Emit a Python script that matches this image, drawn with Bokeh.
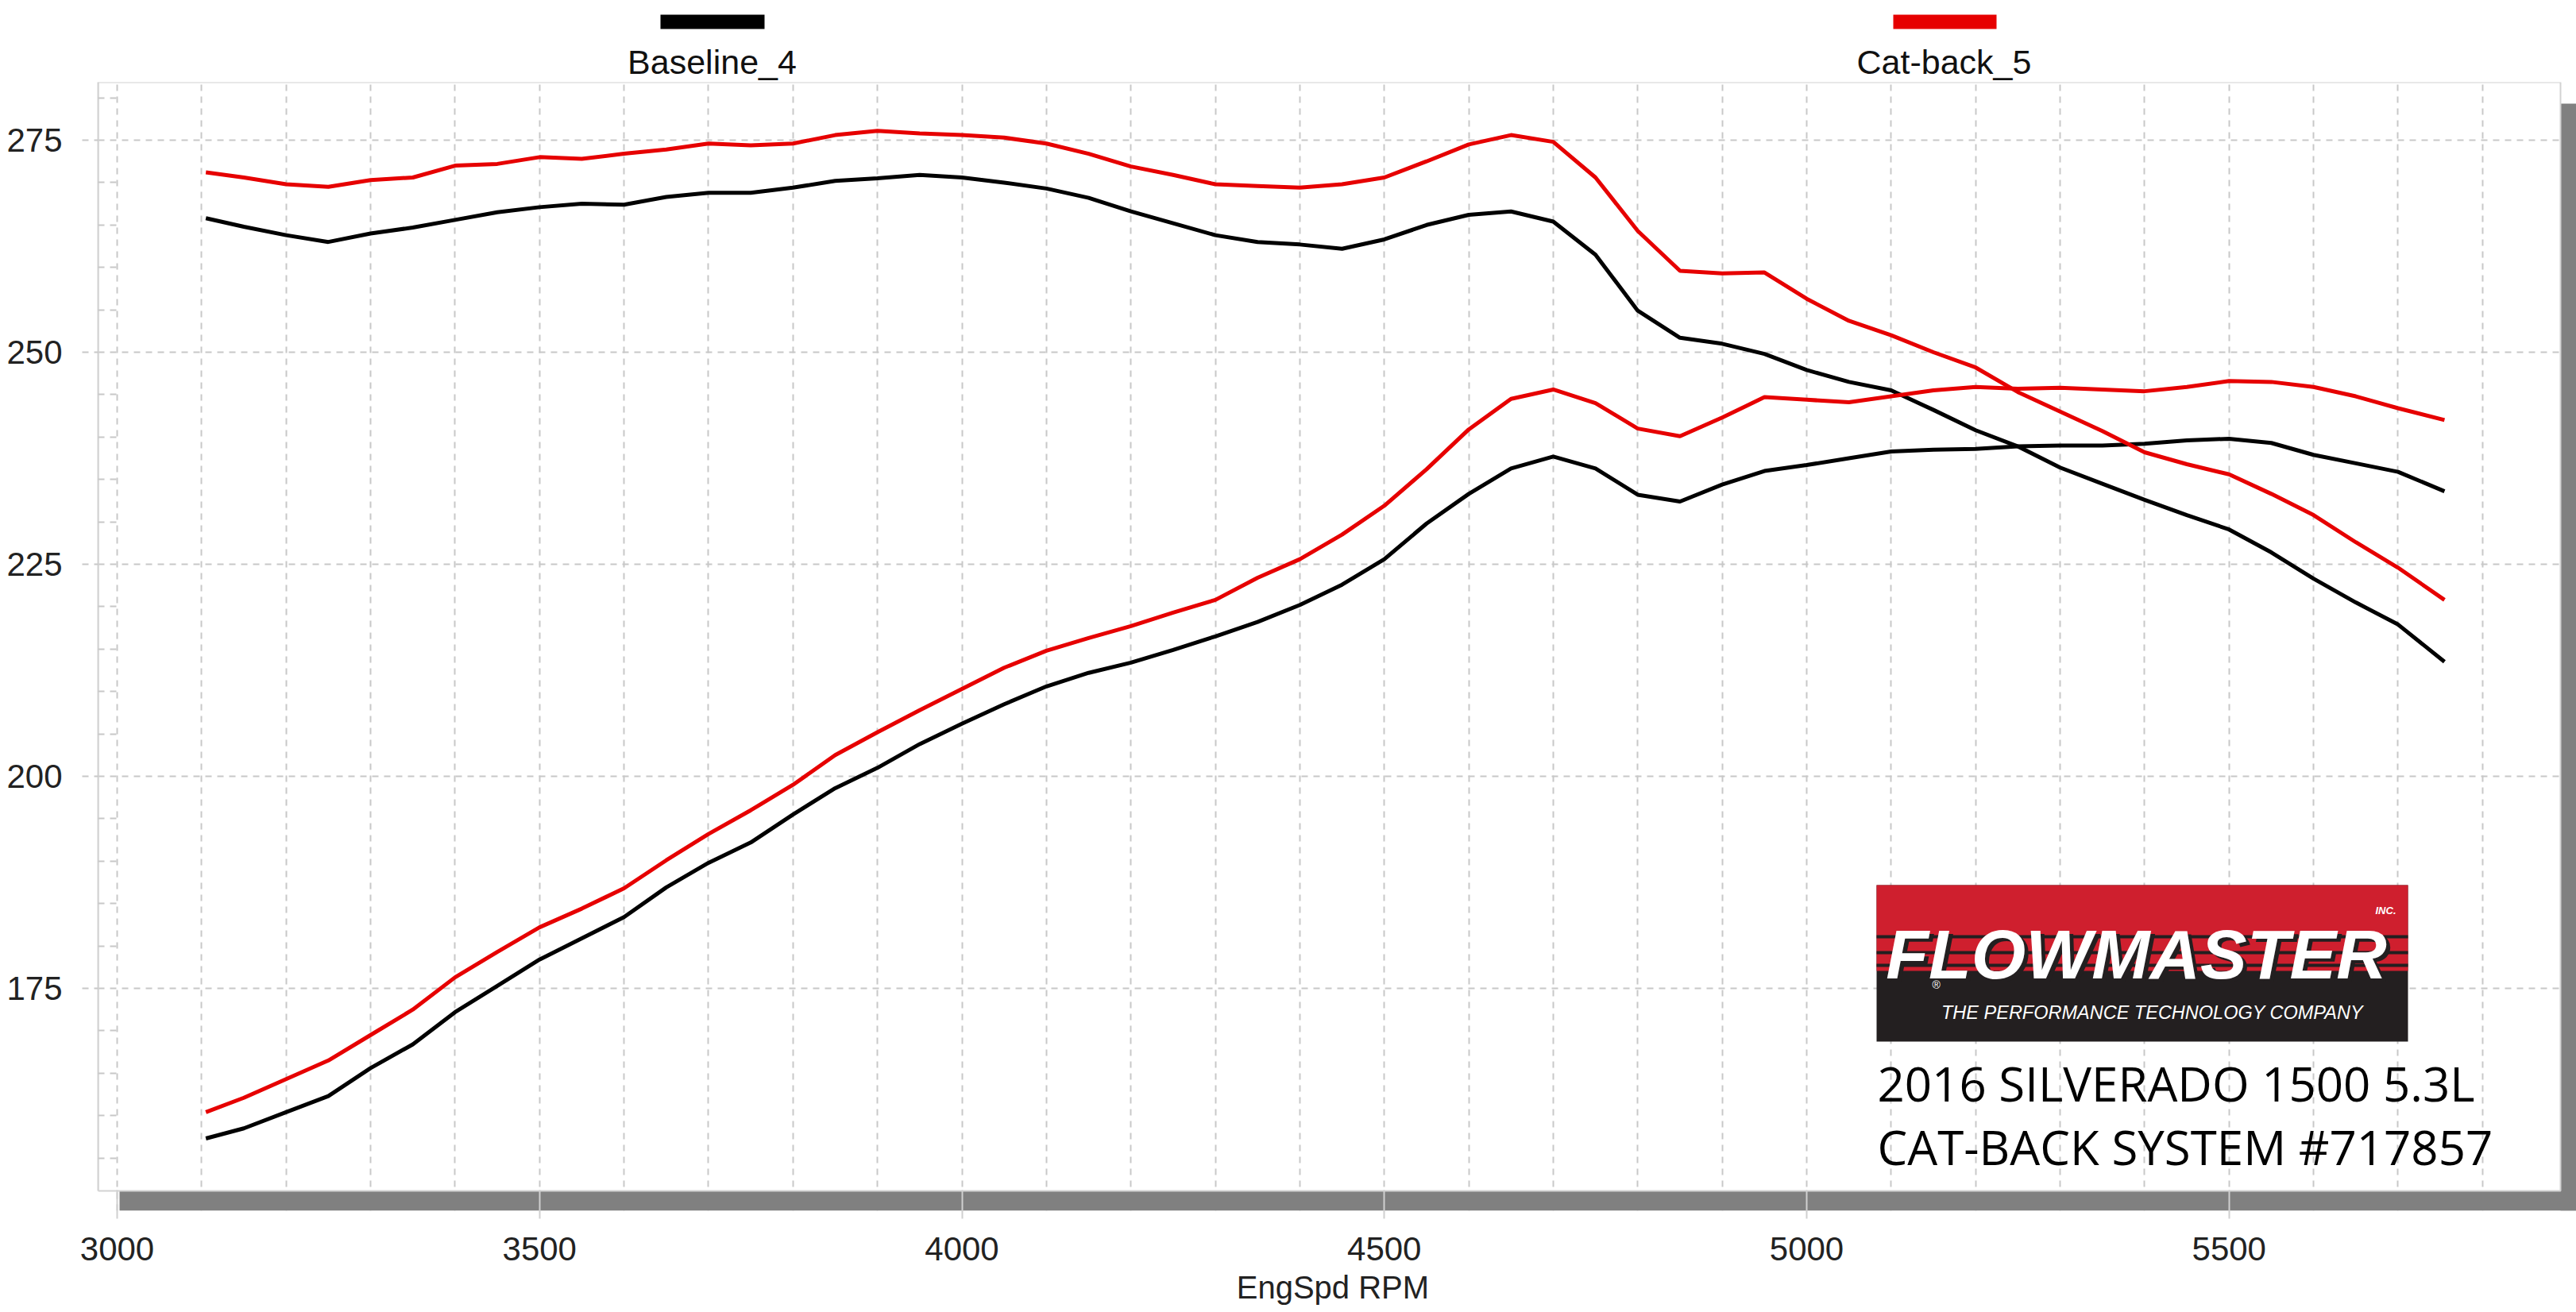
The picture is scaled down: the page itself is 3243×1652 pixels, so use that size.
from bokeh.plotting import figure
from bokeh.layouts import column
from bokeh.models import Range1d, FixedTicker, ColumnDataSource
from bokeh.core.properties import value
from bokeh.embed import file_html
from bokeh.resources import INLINE

# ---------------- data ----------------
rpm = [3105, 3150, 3200, 3250, 3300, 3350, 3400, 3450, 3500, 3550, 3600, 3650, 3700, 3750,
       3800, 3850, 3900, 3950, 4000, 4050, 4100, 4150, 4200, 4250, 4300, 4350, 4400, 4450,
       4500, 4550, 4600, 4650, 4700, 4750, 4800, 4850, 4900, 4950, 5000, 5050, 5100, 5150,
       5200, 5250, 5300, 5350, 5400, 5450, 5500, 5550, 5600, 5650, 5700, 5755]

baseline_upper = [265.8, 264.8, 263.8, 263.0, 264.0, 264.7, 265.6, 266.5, 267.1, 267.5, 267.4, 268.3,
                  268.8, 268.8, 269.4, 270.2, 270.5, 270.9, 270.6, 270.0, 269.3, 268.2, 266.6, 265.2,
                  263.8, 263.0, 262.7, 262.2, 263.3, 265.0, 266.2, 266.6, 265.4, 261.5, 254.9, 251.7,
                  251.0, 249.8, 247.9, 246.5, 245.5, 243.2, 240.8, 238.9, 236.4, 234.5, 232.6, 230.8,
                  229.1, 226.4, 223.3, 220.5, 217.9, 213.5]

catback_upper = [271.2, 270.6, 269.8, 269.5, 270.3, 270.6, 272.0, 272.2, 273.0, 272.8, 273.4, 273.9,
                 274.6, 274.4, 274.6, 275.6, 276.1, 275.8, 275.6, 275.3, 274.6, 273.4, 271.9, 270.9,
                 269.8, 269.6, 269.4, 269.8, 270.6, 272.5, 274.5, 275.6, 274.8, 270.6, 264.3, 259.6,
                 259.3, 259.4, 256.3, 253.7, 252.0, 250.0, 248.2, 245.3, 243.0, 240.7, 238.2, 236.8,
                 235.6, 233.3, 230.8, 227.6, 224.6, 220.8]

baseline_lower = [157.3, 158.5, 160.4, 162.3, 165.6, 168.4, 172.2, 175.3, 178.4, 180.9, 183.4, 186.9,
                  189.8, 192.2, 195.5, 198.6, 201.0, 203.8, 206.2, 208.5, 210.6, 212.2, 213.4, 214.9,
                  216.5, 218.2, 220.2, 222.6, 225.6, 229.8, 233.3, 236.3, 237.7, 236.3, 233.2, 232.4,
                  234.4, 236.0, 236.7, 237.5, 238.3, 238.5, 238.6, 238.9, 239.0, 239.0, 239.2, 239.6,
                  239.8, 239.3, 237.9, 236.9, 235.9, 233.6]

catback_lower = [160.4, 162.1, 164.3, 166.5, 169.5, 172.5, 176.3, 179.3, 182.2, 184.4, 186.8, 190.1,
                 193.2, 196.0, 199.0, 202.5, 205.2, 207.8, 210.3, 212.8, 214.8, 216.3, 217.7, 219.3,
                 220.8, 223.4, 225.6, 228.5, 231.9, 236.2, 240.9, 244.5, 245.6, 244.0, 241.0, 240.1,
                 242.3, 244.7, 244.4, 244.1, 244.8, 245.5, 245.9, 245.7, 245.8, 245.6, 245.4, 245.9,
                 246.6, 246.5, 245.9, 244.8, 243.4, 242.0]

series_names = ["Baseline_4", "Cat-back_5"]
series_colors = ["#000000", "#e60000"]

x_ticks = [3000, 3500, 4000, 4500, 5000, 5500]
x_grid_ticks = [3000, 3100, 3200, 3300, 3400, 3500, 3600, 3700, 3800, 3900, 4000, 4100, 4200, 4300,
                4400, 4500, 4600, 4700, 4800, 4900, 5000, 5100, 5200, 5300, 5400, 5500, 5600, 5700, 5800]
y_ticks = [175, 200, 225, 250, 275]
y_minor = [155, 160, 165, 170, 180, 185, 190, 195, 205, 210, 215, 220, 230, 235, 240, 245,
           255, 260, 265, 270, 280]

x_title = "EngSpd  RPM"
info_lines = ["2016 SILVERADO 1500 5.3L", "CAT-BACK SYSTEM #717857"]

# ---------------- layout geometry (page pixels) ----------------
W = 3243
LEG_H = 103          # legend strip height (frame top of the chart at y=103)
MAIN_H = 1548
FR_L, FR_R, FR_T, FR_B = 123, 3243, 103, 1524     # chart frame (incl. shadow band)
X0, PX_PER_RPM = 147.0, 1.0635     # page x of 3000 rpm, px per rpm
Y0, PX_PER_UNIT = 176.0, 10.68     # page y of 275, px per unit
BL = 0.33            # svg text sits this many em lower than its anchor


def X(sx):
    return 3000 + (sx - X0) / PX_PER_RPM


def Y(sy):
    return 275 - (sy - Y0) / PX_PER_UNIT


def base(sy, size):
    """page y of the anchor that puts the text baseline at page y sy"""
    return sy - BL * size


FONT = value("Liberation Sans")
GRID_C = "#c8c8c8"

# ---------------- legend strip ----------------
# the column aligns this frame with the chart frame, so its x range spans the chart frame
leg = figure(width=W, height=LEG_H, output_backend="svg", toolbar_location=None, title=None,
             x_range=Range1d(FR_L, FR_R), y_range=Range1d(LEG_H, 0),
             x_axis_type=None, y_axis_type=None, min_border=0)
leg.outline_line_color = None
leg.background_fill_color = "white"
leg.border_fill_color = "white"

leg_src = ColumnDataSource(dict(
    name=series_names, color=series_colors,
    left=[831, 2383], right=[962, 2513], cx=[896, 2447]))
leg.quad(left="left", right="right", top=18, bottom=36, fill_color="color", line_color=None,
         source=leg_src)
leg.text(x="cx", y=base(92, 43), text="name", source=leg_src, text_font=FONT,
         text_font_size="43px", text_color="#111111", text_align="center",
         text_baseline="alphabetic")

# ---------------- main chart ----------------
p = figure(width=W, height=MAIN_H, output_backend="svg", toolbar_location=None, title=None,
           x_range=Range1d(X(FR_L), X(FR_R)), y_range=Range1d(Y(FR_B), Y(FR_T)),
           min_border_left=FR_L, min_border_right=0, min_border_top=0,
           min_border_bottom=MAIN_H - (FR_B - FR_T))
p.outline_line_color = None
p.background_fill_color = "white"
p.border_fill_color = "white"

# grids
p.xgrid.ticker = FixedTicker(ticks=x_grid_ticks)
p.ygrid.ticker = FixedTicker(ticks=y_ticks)
for g in (p.xgrid, p.ygrid):
    g.level = "image"
    g.grid_line_color = GRID_C
    g.grid_line_dash = "8 7"
    g.grid_line_width = 2

# y axis
p.yaxis.ticker = FixedTicker(ticks=y_ticks, minor_ticks=y_minor)
p.yaxis.bounds = (Y(1499), Y(FR_T))
p.yaxis.axis_line_color = "#d2d2d2"
p.yaxis.axis_line_width = 2
p.yaxis.major_tick_out = 20
p.yaxis.major_tick_in = 0
p.yaxis.major_tick_line_color = GRID_C
p.yaxis.major_tick_line_width = 2
p.yaxis.major_tick_line_dash = "8 7"
p.yaxis.minor_tick_in = 24
p.yaxis.minor_tick_out = 0
p.yaxis.minor_tick_line_color = GRID_C
p.yaxis.minor_tick_line_width = 2
p.yaxis.minor_tick_line_dash = "8 7"
p.yaxis.major_label_text_font = "Liberation Sans"
p.yaxis.major_label_text_font_size = "42px"
p.yaxis.major_label_text_color = "#222222"
p.yaxis.major_label_standoff = 25

# x axis
p.xaxis.ticker = FixedTicker(ticks=x_ticks)
p.xaxis.axis_line_color = None
p.xaxis.major_tick_in = 26
p.xaxis.major_tick_out = 10
p.xaxis.major_tick_line_color = "#d0d0d0"
p.xaxis.major_tick_line_width = 2
p.xaxis.minor_tick_line_color = None
p.xaxis.major_label_text_font = "Liberation Sans"
p.xaxis.major_label_text_font_size = "42px"
p.xaxis.major_label_text_color = "#222222"
p.xaxis.major_label_standoff = 23
p.xaxis.axis_label = x_title
p.xaxis.axis_label_text_font = "Liberation Sans"
p.xaxis.axis_label_text_font_size = "40px"
p.xaxis.axis_label_text_font_style = "normal"
p.xaxis.axis_label_text_color = "#222222"
p.xaxis.axis_label_standoff = 9

# 3-D shadow under / right of the plot area (covers the grid ends)
p.quad(left=[X(150), X(3223)], right=[X(FR_R), X(FR_R)],
       bottom=[Y(FR_B), Y(FR_B)], top=[Y(1499), Y(130)],
       fill_color="#808080", line_color=None, level="underlay")
# plot-area border
p.quad(left=X(FR_L), right=X(3223), bottom=Y(1499), top=Y(FR_T),
       fill_color=None, line_color="#d2d2d2", line_width=2, level="underlay")

# curves
LW = 5
p.line(rpm, baseline_upper, line_color=series_colors[0], line_width=LW)
p.line(rpm, baseline_lower, line_color=series_colors[0], line_width=LW)
p.line(rpm, catback_upper, line_color=series_colors[1], line_width=LW)
p.line(rpm, catback_lower, line_color=series_colors[1], line_width=LW)

# ---------------- Flowmaster logo ----------------
LOGO_L, LOGO_R = X(2362), X(3031)
p.quad(left=LOGO_L, right=LOGO_R, top=Y(1114), bottom=Y(1311), fill_color="#231f20", line_color=None)
p.quad(left=LOGO_L, right=LOGO_R, top=Y(1114), bottom=Y(1222), fill_color="#cf1f2e", line_color=None)
p.quad(left=[LOGO_L] * 3, right=[LOGO_R] * 3,
       top=[Y(1177), Y(1197), Y(1213)], bottom=[Y(1181), Y(1201), Y(1217)],
       fill_color="#231f20", line_color=None)
p.text(x=[X(2694)], y=[Y(base(1234, 88))], text=["FLOWMASTER"], text_font=FONT,
       text_font_size="88px", text_font_style="bold italic", text_color="#231f20",
       text_align="center", text_baseline="alphabetic")
p.text(x=[X(2689)], y=[Y(base(1230, 88))], text=["FLOWMASTER"], text_font=FONT,
       text_font_size="88px", text_font_style="bold italic", text_color="white",
       text_align="center", text_baseline="alphabetic")
p.text(x=[X(2990)], y=[Y(base(1150, 13))], text=["INC."], text_font=FONT, text_font_size="13px",
       text_font_style="bold italic", text_color="white", text_align="left",
       text_baseline="alphabetic")
p.text(x=[X(2432)], y=[Y(base(1244, 14))], text=["\u00ae"], text_font=FONT, text_font_size="14px",
       text_color="white", text_align="left", text_baseline="alphabetic")
p.text(x=[X(2709)], y=[Y(base(1282, 23.5))], text=["THE PERFORMANCE TECHNOLOGY COMPANY"],
       text_font=FONT, text_font_size="23.5px", text_font_style="italic", text_color="white",
       text_align="center", text_baseline="alphabetic")

# vehicle / part text
p.text(x=[X(2363), X(2363)], y=[Y(base(1383, 60)), Y(base(1463, 60))], text=info_lines,
       text_font=value("Open Sans"), text_font_size="60px", text_color="#000000",
       text_align="left", text_baseline="alphabetic")

layout = column(leg, p, spacing=0)
open("out.html", "w").write(file_html(layout, INLINE))
